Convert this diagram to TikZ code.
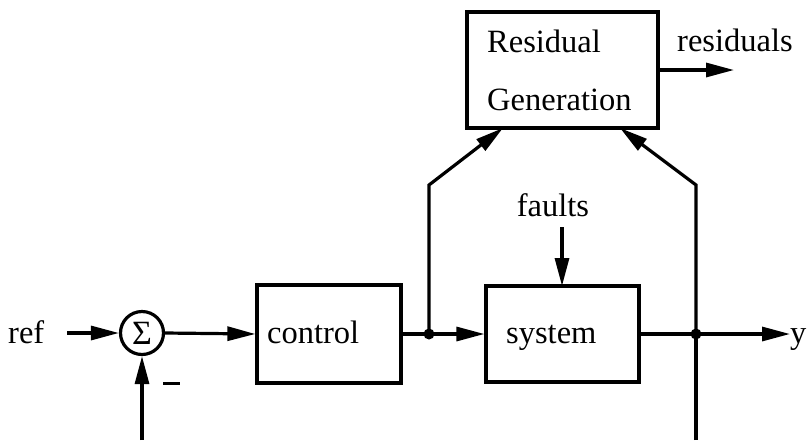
\documentclass[tikz,border=0pt]{standalone}
\usepackage{fontspec}
\setmainfont{Liberation Serif}
\usetikzlibrary{arrows.meta}
\begin{document}
\begin{tikzpicture}[x=1pt,y=-1pt,
  every node/.style={font=\fontsize{32.5}{36}\selectfont},
  lbl/.style={anchor=base west,inner sep=0pt},
  blk/.style={draw,line width=3.2pt,inner sep=0pt},
  wire/.style={line width=3.2pt},
  arr/.style={wire,-{Triangle[length=28pt,width=14pt]}},
  jdot/.style={circle,fill,inner sep=0pt,minimum size=11pt}]
\useasboundingbox (0,0) rectangle (808,440);
% blocks
\node[blk,circle,minimum size=43pt] (sum) at (142,333) {};
\node[inner sep=0pt] at (142,333) {\fontsize{34}{36}\selectfont Σ};
\node[blk,minimum width=144pt,minimum height=98pt] (ctrl) at (329,334) {};
\node[lbl] at (267,343) {control};
\node[blk,minimum width=153pt,minimum height=96pt] (sys) at (562.5,334) {};
\node[lbl] at (506,343) {system};
\node[blk,minimum width=191pt,minimum height=116pt] (rg) at (562.5,70) {};
\node[lbl] at (487,52) {Residual};
\node[lbl] at (487,110) {Generation};
% labels
\node[lbl] (ref) at (8,343) {ref};
\node[anchor=base,inner sep=0pt] (faults) at (553,216) {faults};
\node[lbl] (res) at (677,51) {residuals};
\node[lbl] (y) at (790,343) {y};
\node[fill,inner sep=0pt,minimum width=17pt,minimum height=3pt] (minus) at (171,383) {};
% junctions
\node[jdot] (j1) at (429,334) {};
\node[jdot] (j2) at (696,334) {};
\coordinate (refout) at (67,333);
\coordinate (fbin) at (142,440);
\coordinate (c1) at (429,185);
\coordinate (c2) at (696,185);
\coordinate (ybot) at (696,440);
\coordinate (yout) at (790,334);
\coordinate (resout) at (734,70);
\coordinate (fin) at (562,227);
% connectors
\draw[arr] (refout) -- (sum.west);
\draw[arr] (sum.east) -- (ctrl.west);
\draw[wire] (ctrl.east) -- (j1.center);
\draw[arr] (j1.center) -- (sys.west);
\draw[arr] (j1.center) -- (c1) -- (503,128);
\draw[wire] (sys.east) -- (j2.center);
\draw[arr] (j2.center) -- (yout);
\draw[wire] (ybot) -- (j2.center);
\draw[arr] (j2.center) -- (c2) -- (620,128);
\draw[arr] (fbin) -- (sum.south);
\draw[arr] (fin) -- (562,286);
\draw[arr] (rg.east) -- (resout);
\end{tikzpicture}
\end{document}
